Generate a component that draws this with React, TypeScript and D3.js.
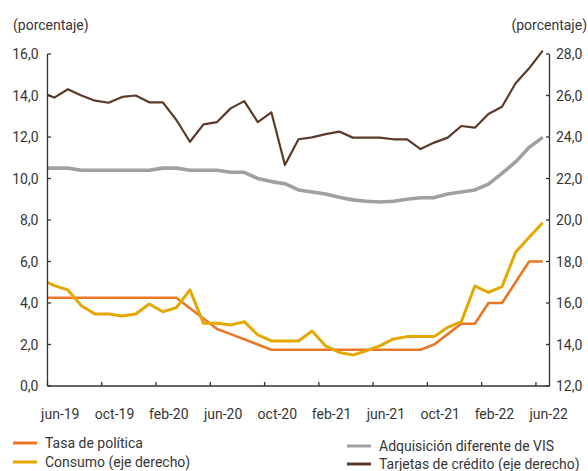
import React from "react";
import * as d3 from "d3";

// Months from may-19 to jun-22 (index 0 = may-19, clipped at the left edge)
const monthNames = ["ene", "feb", "mar", "abr", "may", "jun", "jul", "ago", "sep", "oct", "nov", "dic"];
const months: string[] = [];
for (let y = 2019, m = 4; y < 2022 || (y === 2022 && m <= 5); ) {
  months.push(`${monthNames[m]}-${String(y).slice(2)}`);
  m++;
  if (m === 12) { m = 0; y++; }
}

const tickLabels = ["jun-19", "oct-19", "feb-20", "jun-20", "oct-20", "feb-21", "jun-21", "oct-21", "feb-22", "jun-22"];
const leftTicks = [0, 2, 4, 6, 8, 10, 12, 14, 16];
const rightTicks = [12, 14, 16, 18, 20, 22, 24, 26, 28];

// Left axis series
const tasaPolitica = [
  4.25, 4.25, 4.25, 4.25, 4.25, 4.25, 4.25, 4.25, 4.25, 4.25, 4.25,
  3.75, 3.25, 2.75, 2.5, 2.25, 2.0,
  1.75, 1.75, 1.75, 1.75, 1.75, 1.75, 1.75, 1.75, 1.75, 1.75, 1.75, 1.75,
  2.0, 2.5, 3.0, 3.0, 4.0, 4.0, 5.0, 6.0, 6.0,
];
const adquisicionVIS = [
  10.5, 10.5, 10.5, 10.4, 10.4, 10.4, 10.4, 10.4, 10.4, 10.5, 10.5,
  10.4, 10.4, 10.4, 10.3, 10.3, 10.0, 9.85, 9.75, 9.45, 9.35, 9.25,
  9.1, 8.97, 8.9, 8.87, 8.9, 9.0, 9.07, 9.08, 9.25, 9.35, 9.45, 9.73,
  10.25, 10.8, 11.5, 11.98,
];
// Right axis series
const consumo = [
  17.15, 16.84, 16.63, 15.87, 15.47, 15.47, 15.37, 15.47, 15.95, 15.58,
  15.78, 16.63, 15.02, 15.02, 14.94, 15.1, 14.46, 14.17, 14.17, 14.17,
  14.65, 13.93, 13.62, 13.49, 13.7, 13.93, 14.27, 14.38, 14.38, 14.38,
  14.83, 15.1, 16.82, 16.51, 16.79, 18.44, 19.17, 19.87,
];
const tarjetas = [
  26.15, 25.9, 26.3, 26.0, 25.75, 25.65, 25.93, 26.0, 25.67, 25.67,
  24.82, 23.77, 24.61, 24.72, 25.38, 25.73, 24.72, 25.19, 22.65,
  23.89, 23.98, 24.14, 24.26, 23.97, 23.97, 23.97, 23.89, 23.89,
  23.42, 23.73, 23.97, 24.53, 24.45, 25.11, 25.46, 26.59, 27.31, 28.16,
];

const W = 588, H = 471;
const L = 47.5, R = 549.5, T = 54, B = 386;
const textColor = "#363636";
const font = "Roboto, 'Noto Sans', sans-serif";
const fs = 14;

export default function App() {
  const first = months.indexOf("jun-19");
  const last = months.indexOf("jun-22");
  const x = d3.scaleLinear().domain([first - 0.5, last + 0.5]).range([L, R]);
  const yL = d3.scaleLinear().domain([0, 16]).range([B, T]);
  const yR = d3.scaleLinear().domain([12, 28]).range([B, T]);

  const lineL = d3.line<number>().x((_, i) => x(i)).y((d) => yL(d));
  const lineR = d3.line<number>().x((_, i) => x(i)).y((d) => yR(d));

  const boundaryTicks = tickLabels.map((t) => months.indexOf(t) - 0.5);

  const series = [
    { name: "Tasa de política", d: lineL(tasaPolitica), color: "#EA7726", w: 2.6 },
    { name: "Adquisición diferente de VIS", d: lineL(adquisicionVIS), color: "#A0A0A0", w: 3.6 },
    { name: "Consumo (eje derecho)", d: lineR(consumo), color: "#E4A800", w: 3 },
    { name: "Tarjetas de crédito (eje derecho)", d: lineR(tarjetas), color: "#5C3A2A", w: 2.2 },
  ];
  const drawOrder = [3, 1, 0, 2];

  const legend = [
    { s: 0, x: 13, y: 443 },
    { s: 2, x: 13, y: 462 },
    { s: 1, x: 347, y: 446 },
    { s: 3, x: 347, y: 464 },
  ];

  return (
    <svg width={W} height={H} style={{ position: "absolute", left: 0, top: 0 }} fontFamily={font}>
      <defs>
        <clipPath id="plot">
          <rect x={L} y={0} width={R - L} height={H} />
        </clipPath>
      </defs>
      <rect width={W} height={H} fill="#fff" />
      <text x={13} y={29.5} fontSize={fs} fill={textColor}>(porcentaje)</text>
      <text x={587} y={29.5} fontSize={fs} fill={textColor} textAnchor="end">(porcentaje)</text>

      {/* lines */}
      <g clipPath="url(#plot)">
        {drawOrder.map((i) => (
          <path key={i} d={series[i].d || ""} fill="none" stroke={series[i].color}
            strokeWidth={series[i].w} strokeLinejoin="round" />
        ))}
      </g>

      {/* axes */}
      <g stroke="#333" strokeWidth={1.3}>
        <line x1={L} x2={L} y1={T} y2={B} />
        <line x1={R} x2={R} y1={T} y2={B} />
        <line x1={L} x2={R} y1={B} y2={B} />
        {leftTicks.map((t) => <line key={"l" + t} x1={L} x2={L + 3.5} y1={yL(t)} y2={yL(t)} />)}
        {rightTicks.map((t) => <line key={"r" + t} x1={R - 3.5} x2={R} y1={yR(t)} y2={yR(t)} />)}
        {boundaryTicks.map((t) => <line key={"b" + t} x1={x(t)} x2={x(t)} y1={B} y2={B - 4} />)}
      </g>
      {leftTicks.map((t) => (
        <text key={"lt" + t} x={38.5} y={yL(t)} dy="0.36em" fontSize={fs} fill={textColor} textAnchor="end">
          {t.toFixed(1).replace(".", ",")}
        </text>
      ))}
      {rightTicks.map((t) => (
        <text key={"rt" + t} x={556} y={yR(t)} dy="0.36em" fontSize={fs} fill={textColor}>
          {t.toFixed(1).replace(".", ",")}
        </text>
      ))}
      {tickLabels.map((t) => (
        <text key={"xt" + t} x={x(months.indexOf(t)) + 6} y={419} fontSize={fs} fill={textColor} textAnchor="middle">
          {t}
        </text>
      ))}

      {/* legend */}
      {legend.map((l) => (
        <g key={l.s}>
          <line x1={l.x} x2={l.x + 24} y1={l.y} y2={l.y} stroke={series[l.s].color} strokeWidth={3} />
          <text x={l.x + 32} y={l.y} dy="0.36em" fontSize={fs} fill={textColor}>{series[l.s].name}</text>
        </g>
      ))}
    </svg>
  );
}
